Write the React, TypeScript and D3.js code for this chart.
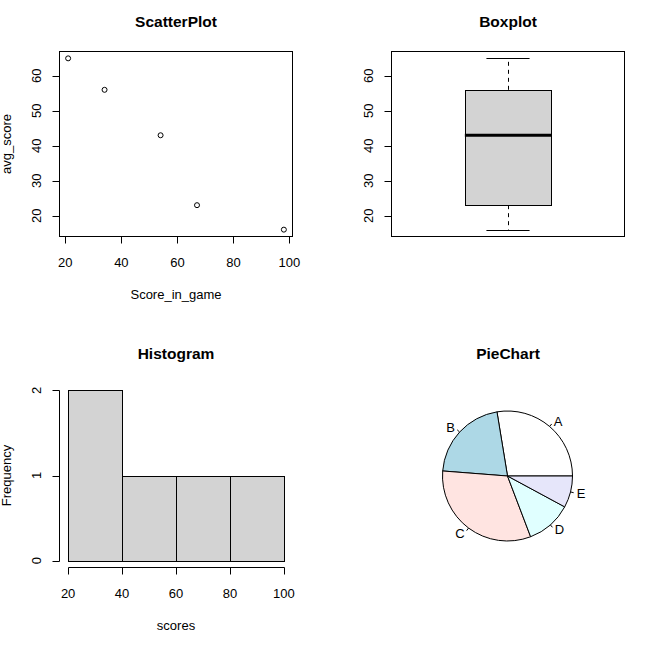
import * as d3 from 'd3';

// data
const scoreInGame = [21, 34, 54, 67, 98];
const avgScore = [65, 56, 43, 23, 16];
const histBreaks = [20, 40, 60, 80, 100];
const scatterXTicks = [20, 40, 60, 80, 100];
const scoreYTicks = [20, 30, 40, 50, 60];
const histYTicks = [0, 1, 2];
const pieLabels = ['A', 'B', 'C', 'D', 'E'];
const pieValues = [56, 43, 65, 23, 16];
const pieColors = ['#ffffff', '#add8e6', '#ffe4e1', '#e0ffff', '#e6e6fa'];

const W = 651;
const H = 646;
const FONT = '"Liberation Sans", Arial, sans-serif';
const FS = 13;
const TICK = 7;

// plot regions (R's mfrow 2x2)
const cols = [{ l: 59.5, r: 292.5 }, { l: 391.5, r: 624.5 }];
const rows = [{ t: 51.5, b: 236.5 }, { t: 383.5, b: 567.5 }];

// R style 4% axis padding
const pad = (lo: number, hi: number): [number, number] => {
  const d = (hi - lo) * 0.04;
  return [lo - d, hi + d];
};

function Title({ x, y, text }: { x: number; y: number; text: string }) {
  return (
    <text x={x} y={y} textAnchor="middle" fontFamily={FONT} fontWeight="bold" fontSize={15.5}>
      {text}
    </text>
  );
}

function YTicks({ x, scale, ticks }: { x: number; scale: d3.ScaleLinear<number, number>; ticks: number[] }) {
  return (
    <g>
      {ticks.map(t => (
        <g key={t}>
          <line x1={x} x2={x - TICK} y1={Math.round(scale(t)) + 0.5} y2={Math.round(scale(t)) + 0.5} stroke="#000" />
          <text
            transform={`translate(${x - 23},${scale(t)}) rotate(-90)`}
            textAnchor="middle"
            dominantBaseline="central"
            fontFamily={FONT}
            fontSize={FS}
          >
            {t}
          </text>
        </g>
      ))}
    </g>
  );
}

function XTicks({ y, scale, ticks }: { y: number; scale: d3.ScaleLinear<number, number>; ticks: number[] }) {
  return (
    <g>
      {ticks.map(t => (
        <g key={t}>
          <line x1={Math.round(scale(t)) + 0.5} x2={Math.round(scale(t)) + 0.5} y1={y} y2={y + TICK} stroke="#000" />
          <text x={scale(t)} y={y + 30} textAnchor="middle" fontFamily={FONT} fontSize={FS}>
            {t}
          </text>
        </g>
      ))}
    </g>
  );
}

function ScatterPanel() {
  const c = cols[0], r = rows[0];
  const x = d3.scaleLinear().domain(pad(d3.min(scoreInGame)!, d3.max(scoreInGame)!)).range([c.l, c.r]);
  const y = d3.scaleLinear().domain(pad(d3.min(avgScore)!, d3.max(avgScore)!)).range([r.b, r.t]);
  return (
    <g>
      <Title x={(c.l + c.r) / 2} y={26.5} text="ScatterPlot" />
      {scoreInGame.map((s, i) => (
        <circle key={i} cx={x(s)} cy={y(avgScore[i])} r={2.5} fill="none" stroke="#000" strokeWidth={1} />
      ))}
      <rect x={c.l} y={r.t} width={c.r - c.l} height={r.b - r.t} fill="none" stroke="#000" />
      <XTicks y={r.b} scale={x} ticks={scatterXTicks} />
      <YTicks x={c.l} scale={y} ticks={scoreYTicks} />
      <text x={(c.l + c.r) / 2} y={r.b + 62} textAnchor="middle" fontFamily={FONT} fontSize={FS}>
        Score_in_game
      </text>
      <text
        transform={`translate(${c.l - 53},${(r.t + r.b) / 2}) rotate(-90)`}
        textAnchor="middle"
        dominantBaseline="central"
        fontFamily={FONT}
        fontSize={FS}
      >
        avg_score
      </text>
    </g>
  );
}

function BoxPanel() {
  const c = cols[1], r = rows[0];
  const sorted = [...avgScore].sort(d3.ascending);
  const lo = d3.min(sorted)!, hi = d3.max(sorted)!;
  const q1 = d3.quantile(sorted, 0.25)!, med = d3.median(sorted)!, q3 = d3.quantile(sorted, 0.75)!;
  const x = d3.scaleLinear().domain(pad(0.5, 1.5)).range([c.l, c.r]);
  const y = d3.scaleLinear().domain(pad(lo, hi)).range([r.b, r.t]);
  const cx = Math.round(x(1)) + 0.5;
  return (
    <g>
      <Title x={(c.l + c.r) / 2} y={26.5} text="Boxplot" />
      <line x1={cx} x2={cx} y1={y(q3)} y2={y(hi)} stroke="#000" strokeDasharray="4,4" />
      <line x1={cx} x2={cx} y1={y(q1)} y2={y(lo)} stroke="#000" strokeDasharray="4,4" />
      <line x1={x(0.9)} x2={x(1.1)} y1={Math.round(y(hi)) + 0.5} y2={Math.round(y(hi)) + 0.5} stroke="#000" />
      <line x1={x(0.9)} x2={x(1.1)} y1={Math.round(y(lo)) + 0.5} y2={Math.round(y(lo)) + 0.5} stroke="#000" />
      <rect
        x={Math.round(x(0.8)) + 0.5}
        y={Math.round(y(q3)) + 0.5}
        width={Math.round(x(1.2)) - Math.round(x(0.8))}
        height={Math.round(y(q1)) - Math.round(y(q3))}
        fill="#d3d3d3"
        stroke="#000"
      />
      <line x1={x(0.8)} x2={x(1.2)} y1={y(med)} y2={y(med)} stroke="#000" strokeWidth={3.2} />
      <rect x={c.l} y={r.t} width={c.r - c.l} height={r.b - r.t} fill="none" stroke="#000" />
      <YTicks x={c.l} scale={y} ticks={scoreYTicks} />
    </g>
  );
}

function HistPanel() {
  const c = cols[0], r = rows[1];
  const bins = d3.bin().domain([histBreaks[0], histBreaks[histBreaks.length - 1]]).thresholds(histBreaks.slice(1, -1))(scoreInGame);
  const maxCount = d3.max(bins, b => b.length)!;
  const x = d3.scaleLinear().domain(pad(histBreaks[0], histBreaks[histBreaks.length - 1])).range([c.l, c.r]);
  const y = d3.scaleLinear().domain(pad(0, maxCount)).range([r.b, r.t]);
  const px = (v: number) => Math.round(x(v)) + 0.5;
  const py = (v: number) => Math.round(y(v)) + 0.5;
  return (
    <g>
      <Title x={(c.l + c.r) / 2} y={358.5} text="Histogram" />
      {bins.map((b, i) => (
        <rect
          key={i}
          x={px(b.x0!)}
          y={py(b.length)}
          width={px(b.x1!) - px(b.x0!)}
          height={py(0) - py(b.length)}
          fill="#d3d3d3"
          stroke="#000"
        />
      ))}
      <line x1={px(histBreaks[0])} x2={px(histBreaks[histBreaks.length - 1])} y1={r.b} y2={r.b} stroke="#000" />
      <XTicks y={r.b} scale={x} ticks={histBreaks} />
      <line x1={c.l} x2={c.l} y1={py(0)} y2={py(maxCount)} stroke="#000" />
      <YTicks x={c.l} scale={y} ticks={histYTicks} />
      <text x={(c.l + c.r) / 2} y={r.b + 62} textAnchor="middle" fontFamily={FONT} fontSize={FS}>
        scores
      </text>
      <text
        transform={`translate(${c.l - 53},${(r.t + r.b) / 2}) rotate(-90)`}
        textAnchor="middle"
        dominantBaseline="central"
        fontFamily={FONT}
        fontSize={FS}
      >
        Frequency
      </text>
    </g>
  );
}

function PiePanel() {
  const c = cols[1], r = rows[1];
  const cx = (c.l + c.r) / 2 - 0.5;
  const cy = (r.t + r.b) / 2 + 0.5;
  const radius = 65;
  // R draws counter-clockwise from 3 o'clock
  const pie = d3.pie<number>().sort(null).startAngle(Math.PI / 2).endAngle(Math.PI / 2 - 2 * Math.PI);
  const arcs = pie(pieValues);
  const arc = d3.arc<d3.PieArcDatum<number>>().innerRadius(0).outerRadius(radius);
  return (
    <g>
      <Title x={(c.l + c.r) / 2} y={358.5} text="PieChart" />
      <g transform={`translate(${cx},${cy})`}>
        {arcs.map((a, i) => (
          <path key={i} d={arc(a)!} fill={pieColors[i]} stroke="#000" strokeWidth={1} />
        ))}
        {arcs.map((a, i) => {
          const m = (a.startAngle + a.endAngle) / 2;
          const sx = Math.sin(m), sy = -Math.cos(m);
          return (
            <g key={i}>
              <line x1={sx * radius} y1={sy * radius} x2={sx * radius * 1.05} y2={sy * radius * 1.05} stroke="#000" />
              <text
                x={sx * radius * 1.1}
                y={sy * radius * 1.1}
                textAnchor={sx < 0 ? 'end' : 'start'}
                dominantBaseline="central"
                fontFamily={FONT}
                fontSize={FS}
              >
                {pieLabels[i]}
              </text>
            </g>
          );
        })}
      </g>
    </g>
  );
}

export default function App() {
  return (
    <svg
      width={W}
      height={H}
      viewBox={`0 0 ${W} ${H}`}
      style={{ position: 'absolute', left: 0, top: 0, background: '#fff' }}
    >
      <rect width={W} height={H} fill="#fff" />
      <ScatterPanel />
      <BoxPanel />
      <HistPanel />
      <PiePanel />
    </svg>
  );
}
